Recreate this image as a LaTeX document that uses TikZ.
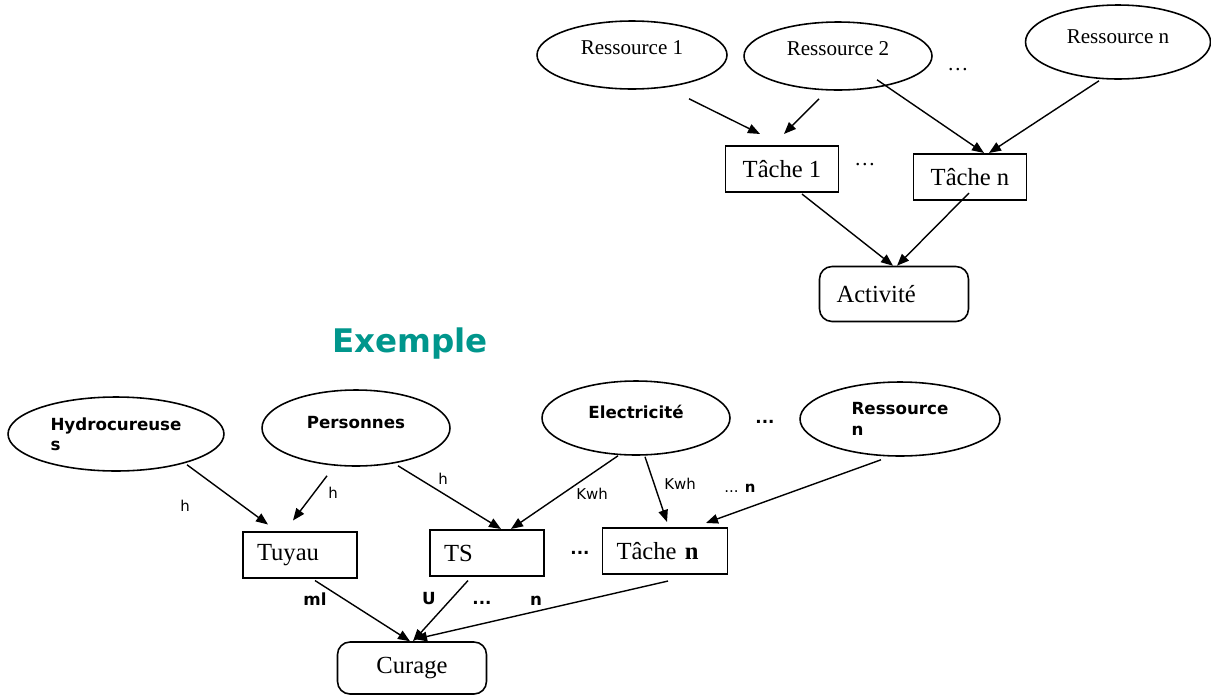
\documentclass[tikz,border=0pt]{standalone}
\usepackage{fontspec}
\setmainfont{Liberation Serif}
\newfontfamily\verdana{DejaVu Sans}
\usetikzlibrary{arrows.meta, shapes.geometric}
\definecolor{exteal}{RGB}{0,150,140}
\tikzstyle{res} = [ellipse, draw, line width=0.9pt, inner sep=0pt, text depth=0.3cm,
  font=\fontsize{12}{14}\selectfont]
\tikzstyle{resb} = [ellipse, draw, line width=0.9pt, inner sep=0pt, align=left,
  font=\verdana\bfseries\fontsize{9.5}{11.5}\selectfont]
\tikzstyle{task} = [rectangle, draw, line width=0.9pt, minimum width=2.26cm,
  minimum height=0.93cm, font=\fontsize{14}{16}\selectfont]
\tikzstyle{taskl} = [task, align=left, text width=1.72cm, inner xsep=0.28cm]
\tikzstyle{act} = [task, rounded corners=2.5mm, minimum width=2.98cm, minimum height=1.1cm]
\tikzstyle{arrow} = [line width=0.8pt, -{Triangle[length=2.4mm, width=1.9mm]}]
\tikzstyle{lbl} = [inner sep=1pt, font=\verdana\fontsize{8.5}{10}\selectfont]
\tikzstyle{lblb} = [inner sep=1pt, font=\verdana\bfseries\fontsize{9.5}{11}\selectfont]

\begin{document}
\begin{tikzpicture}[x=0.02cm, y=-0.02cm]
  \useasboundingbox (0,0) rectangle (1211,697);
  % modele general
  \node[res, minimum width=3.8cm, minimum height=1.36cm] (r1) at (632,55) {Ressource 1};
  \node[res, minimum width=3.76cm, minimum height=1.36cm] (r2) at (838,56) {Ressource 2};
  \node[res, text depth=0.2cm, minimum width=3.7cm, minimum height=1.48cm] (rn) at (1118,42) {Ressource n};
  \node[font=\fontsize{12}{14}\selectfont] (dr) at (958,70) {\dots};
  \node[task] (t1) at (782,169) {Tâche 1};
  \node[font=\fontsize{12}{14}\selectfont] (dt) at (865,165) {\dots};
  \node[task] (tn) at (970,177) {Tâche n};
  \node[act, text width=2.3cm] (act) at (894,294) {Activité};

  \draw[arrow] ([shift={(57,9)}]r1.south) -- ([shift={(-22,-11)}]t1.north);
  \draw[arrow] ([shift={(-19,8)}]r2.south) -- ([shift={(2,-11)}]t1.north);
  \draw[arrow] ([shift={(39,-11)}]r2.south) -- ([shift={(14,0)}]tn.north);
  \draw[arrow] ([shift={(-19,1)}]rn.south) -- ([shift={(19,0)}]tn.north);
  \draw[arrow] ([shift={(20,1)}]t1.south) -- ([shift={(-1,0)}]act.north);
  \draw[arrow] ([shift={(-1,-8)}]tn.south) -- ([shift={(3,0)}]act.north);

  % exemple
  \node[text=exteal, font=\verdana\bfseries\fontsize{18.5}{22}\selectfont] (ex) at (410,344) {Exemple};
  \node[resb, minimum width=4.32cm, minimum height=1.48cm] (hyd) at (116,434) {Hydrocureuse\\s};
  \node[resb, text depth=0.24cm, minimum width=3.76cm, minimum height=1.52cm] (pers) at (356,428) {Personnes};
  \node[resb, text depth=0.24cm, minimum width=3.76cm, minimum height=1.48cm] (elec) at (636,418) {Electricité};
  \node[lblb] (de) at (765,422) {...};
  \node[resb, minimum width=4cm, minimum height=1.48cm] (resn) at (900,419) {Ressource\\n};
  \node[taskl] (tuy) at (300,555) {Tuyau};
  \node[taskl] (ts) at (487,553) {TS};
  \node[lblb] (dts) at (580,553) {...};
  \node[taskl, text width=1.94cm] (tn2) at (665,551) {Tâche \textbf{n}};
  \node[act, minimum height=1.04cm] (cur) at (412,668) {Curage};
  \node[lbl] (dn) at (740,488) {... \textbf{n}};
  \node[lblb] (dc) at (482,603) {...};

  \draw[arrow] ([shift={(71,-7)}]hyd.south)
    -- node[lbl, xshift=-0.85cm, yshift=-0.23cm] {h} ([shift={(-32,-6.5)}]tuy.north);
  \draw[arrow] ([shift={(-29,9)}]pers.south)
    -- node[lbl, xshift=0.46cm, yshift=0.1cm] {h} ([shift={(-7,-10.5)}]tuy.north);
  \draw[arrow] ([shift={(42,-1)}]pers.south)
    -- node[lbl, xshift=-0.13cm, yshift=0.38cm] {h} ([shift={(14,0)}]ts.north);
  \draw[arrow] ([shift={(-18,0)}]elec.south)
    -- node[lbl, xshift=0.55cm, yshift=-0.02cm] {Kwh} ([shift={(24,0)}]ts.north);
  \draw[arrow] ([shift={(9,1)}]elec.south)
    -- node[lbl, xshift=0.48cm, yshift=0.11cm] {Kwh} ([shift={(2,-5)}]tn2.north);
  \draw[arrow] ([shift={(-19,3)}]resn.south) -- ([shift={(41,-4)}]tn2.north);
  \draw[arrow] ([shift={(15,1.5)}]tuy.south)
    -- node[lblb, xshift=-0.95cm, yshift=0.24cm] {ml} ([shift={(-2,0)}]cur.north);
  \draw[arrow] ([shift={(-19,3.5)}]ts.south)
    -- node[lblb, xshift=-0.23cm, yshift=0.24cm] {U} ([shift={(1,0)}]cur.north);
  \draw[arrow] ([shift={(3,6)}]tn2.south)
    -- node[lblb, xshift=-0.11cm, yshift=0.18cm] {n} ([shift={(3,-2)}]cur.north);
\end{tikzpicture}
\end{document}
